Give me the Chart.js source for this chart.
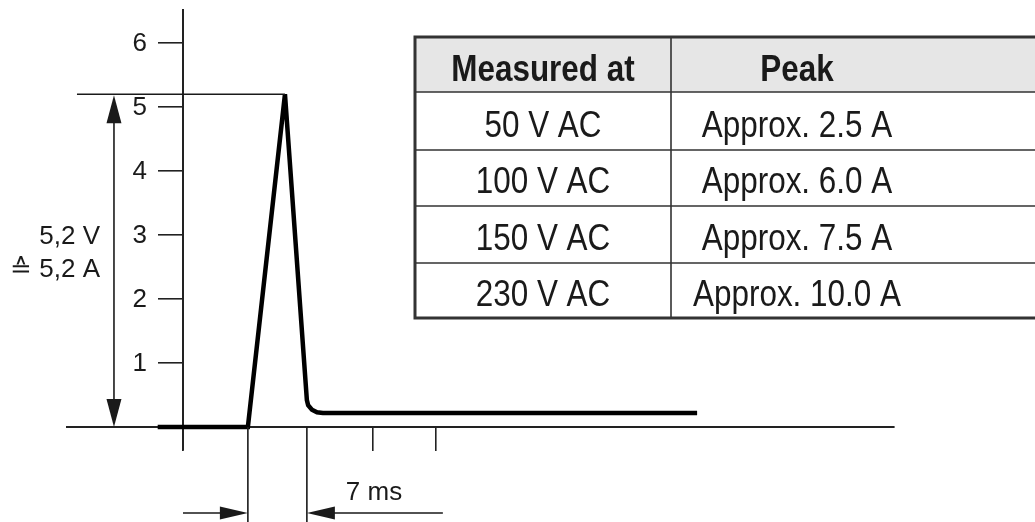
<!DOCTYPE html>
<html lang="en">
<head>
    <meta charset="UTF-8">
    <title>Inrush current pulse</title>
    <script src="https://cdn.jsdelivr.net/npm/chart.js"></script>
    <style>
        body { margin: 0; background: #fff; }
        canvas { display: block; }
    </style>
</head>
<body>
    <canvas id="myChart" width="1035" height="522"></canvas>

    <script>
        // pulse (time in ms, current in A)
        const timeMs = [-3.0, 7.7, 12.1, 14.7, 14.85, 15.3, 15.9, 16.6, 61.0];
        const currentA = [0, 0, 5.2, 0.42, 0.34, 0.27, 0.23, 0.22, 0.22];
        const yTickValues = [1, 2, 3, 4, 5, 6];
        const xTickValues = [0, 22.5, 30];

        const peakLabel = ['5,2 V', '\u2259 5,2 A'];
        const pulseWidthLabel = '7 ms';

        const tableHeader = ['Measured at', 'Peak'];
        const measuredAt = ['50 V AC', '100 V AC', '150 V AC', '230 V AC'];
        const peakCurrent = ['Approx. 2.5 A', 'Approx. 6.0 A', 'Approx. 7.5 A', 'Approx. 10.0 A'];

        const FONT = '"Liberation Sans", Arial, Helvetica, sans-serif';
        const INK = '#1a1a1a';

        function arrowHead(ctx, tipX, tipY, dir, len, half) {
            // dir: 'up' | 'down' | 'left' | 'right'
            ctx.beginPath();
            ctx.moveTo(tipX, tipY);
            if (dir === 'up') { ctx.lineTo(tipX - half, tipY + len); ctx.lineTo(tipX + half, tipY + len); }
            if (dir === 'down') { ctx.lineTo(tipX - half, tipY - len); ctx.lineTo(tipX + half, tipY - len); }
            if (dir === 'right') { ctx.lineTo(tipX - len, tipY - half); ctx.lineTo(tipX - len, tipY + half); }
            if (dir === 'left') { ctx.lineTo(tipX + len, tipY - half); ctx.lineTo(tipX + len, tipY + half); }
            ctx.closePath();
            ctx.fill();
        }

        function squeezedText(ctx, text, x, y, sx) {
            ctx.save();
            ctx.translate(x, y);
            ctx.scale(sx, 1);
            ctx.fillText(text, 0, 0);
            ctx.restore();
        }

        const extras = {
            id: 'extras',
            afterDraw(chart) {
                const ctx = chart.ctx;
                const xs = chart.scales.x, ys = chart.scales.y;
                const ax0 = xs.getPixelForValue(0);
                const y0 = ys.getPixelForValue(0);

                ctx.save();
                ctx.fillStyle = INK;
                ctx.strokeStyle = INK;

                // y tick labels
                ctx.font = '26px ' + FONT;
                ctx.textAlign = 'right';
                ctx.textBaseline = 'middle';
                yTickValues.forEach(v => ctx.fillText(String(v), ax0 - 36, ys.getPixelForValue(v) + 1));

                // peak dimension
                const iPeak = currentA.indexOf(Math.max(...currentA));
                const px = xs.getPixelForValue(timeMs[iPeak]);
                const py = ys.getPixelForValue(currentA[iPeak]);
                ctx.lineWidth = 1.6;
                ctx.beginPath();
                ctx.moveTo(ax0 - 106, py);
                ctx.lineTo(px, py);
                ctx.stroke();

                const dx = ax0 - 69;
                ctx.beginPath();
                ctx.moveTo(dx, py + 10);
                ctx.lineTo(dx, y0 - 10);
                ctx.stroke();
                arrowHead(ctx, dx, py + 1, 'up', 28, 7.5);
                arrowHead(ctx, dx, y0, 'down', 28, 7.5);

                ctx.textBaseline = 'alphabetic';
                ctx.font = '26px ' + FONT;
                ctx.fillText(peakLabel[0], ax0 - 83, 244);
                ctx.fillText(peakLabel[1], ax0 - 83, 277);

                // pulse width dimension (rise start to fall end)
                const xStart = xs.getPixelForValue(timeMs[1]);
                const xEnd = xs.getPixelForValue(timeMs[3]);
                const h = chart.height;
                ctx.lineWidth = 1.6;
                ctx.beginPath();
                ctx.moveTo(xStart, y0); ctx.lineTo(xStart, h);
                ctx.moveTo(xEnd, y0); ctx.lineTo(xEnd, h);
                const ay = 513;
                ctx.moveTo(ax0, ay); ctx.lineTo(xStart - 10, ay);
                ctx.moveTo(xEnd + 136, ay); ctx.lineTo(xEnd + 10, ay);
                ctx.stroke();
                arrowHead(ctx, xStart, ay, 'right', 28, 6.5);
                arrowHead(ctx, xEnd, ay, 'left', 28, 6.5);
                ctx.textAlign = 'left';
                ctx.font = '26px ' + FONT;
                ctx.fillText(pulseWidthLabel, xEnd + 39, 500);

                // table
                const tl = 415, tr = 1040, c1 = 671;
                const rows = [37, 92, 150, 206, 263, 318];
                ctx.fillStyle = '#e6e6e6';
                ctx.fillRect(tl, rows[0], tr - tl, rows[1] - rows[0]);
                ctx.strokeStyle = '#333';
                ctx.lineWidth = 1.6;
                ctx.beginPath();
                rows.slice(1, 5).forEach(r => { ctx.moveTo(tl, r); ctx.lineTo(tr, r); });
                ctx.moveTo(c1, rows[0]); ctx.lineTo(c1, rows[5]);
                ctx.stroke();
                ctx.lineWidth = 3;
                ctx.beginPath();
                ctx.moveTo(tr, rows[0]); ctx.lineTo(tl, rows[0]);
                ctx.lineTo(tl, rows[5]); ctx.lineTo(tr, rows[5]);
                ctx.stroke();

                ctx.fillStyle = INK;
                ctx.textAlign = 'center';
                const col1x = 543, col2x = 797, sx = 0.85;
                ctx.font = 'bold 37px ' + FONT;
                squeezedText(ctx, tableHeader[0], col1x, 81, sx);
                squeezedText(ctx, tableHeader[1], col2x, 81, sx);
                const baselines = [137, 193, 250, 306];
                ctx.font = '37px ' + FONT;
                measuredAt.forEach((t, i) => squeezedText(ctx, t, col1x, baselines[i], sx));
                peakCurrent.forEach((t, i) => squeezedText(ctx, t, col2x, baselines[i], sx));

                ctx.restore();
            }
        };

        const ctx = document.getElementById('myChart').getContext('2d');
        const myChart = new Chart(ctx, {
            type: 'line',
            data: {
                datasets: [{
                    data: timeMs.map((t, i) => ({ x: t, y: currentA[i] })),
                    borderColor: '#000',
                    borderWidth: 4.5,
                    borderJoinStyle: 'miter',
                    borderCapStyle: 'butt',
                    pointRadius: 0,
                    fill: false,
                    tension: 0
                }]
            },
            options: {
                responsive: false,
                animation: false,
                events: [],
                layout: { padding: { left: 67, right: 141, top: 10, bottom: 72 } },
                plugins: { legend: { display: false }, tooltip: { enabled: false } },
                scales: {
                    x: {
                        type: 'linear',
                        min: -13.76,
                        max: 84.36,
                        position: { y: 0 },
                        afterBuildTicks: s => { s.ticks = xTickValues.map(v => ({ value: v })); },
                        grid: { drawOnChartArea: false, drawTicks: true, tickLength: 23, color: '#222', lineWidth: 1.6 },
                        border: { display: true, color: '#222', width: 2 },
                        ticks: { display: false }
                    },
                    y: {
                        min: -0.359,
                        max: 6.516,
                        position: { x: 0 },
                        afterBuildTicks: s => { s.ticks = yTickValues.map(v => ({ value: v })); },
                        grid: { drawOnChartArea: false, drawTicks: true, tickLength: 24, color: '#222', lineWidth: 1.6 },
                        border: { display: true, color: '#222', width: 2 },
                        ticks: { display: false }
                    }
                }
            },
            plugins: [extras]
        });
    </script>
</body>
</html>
